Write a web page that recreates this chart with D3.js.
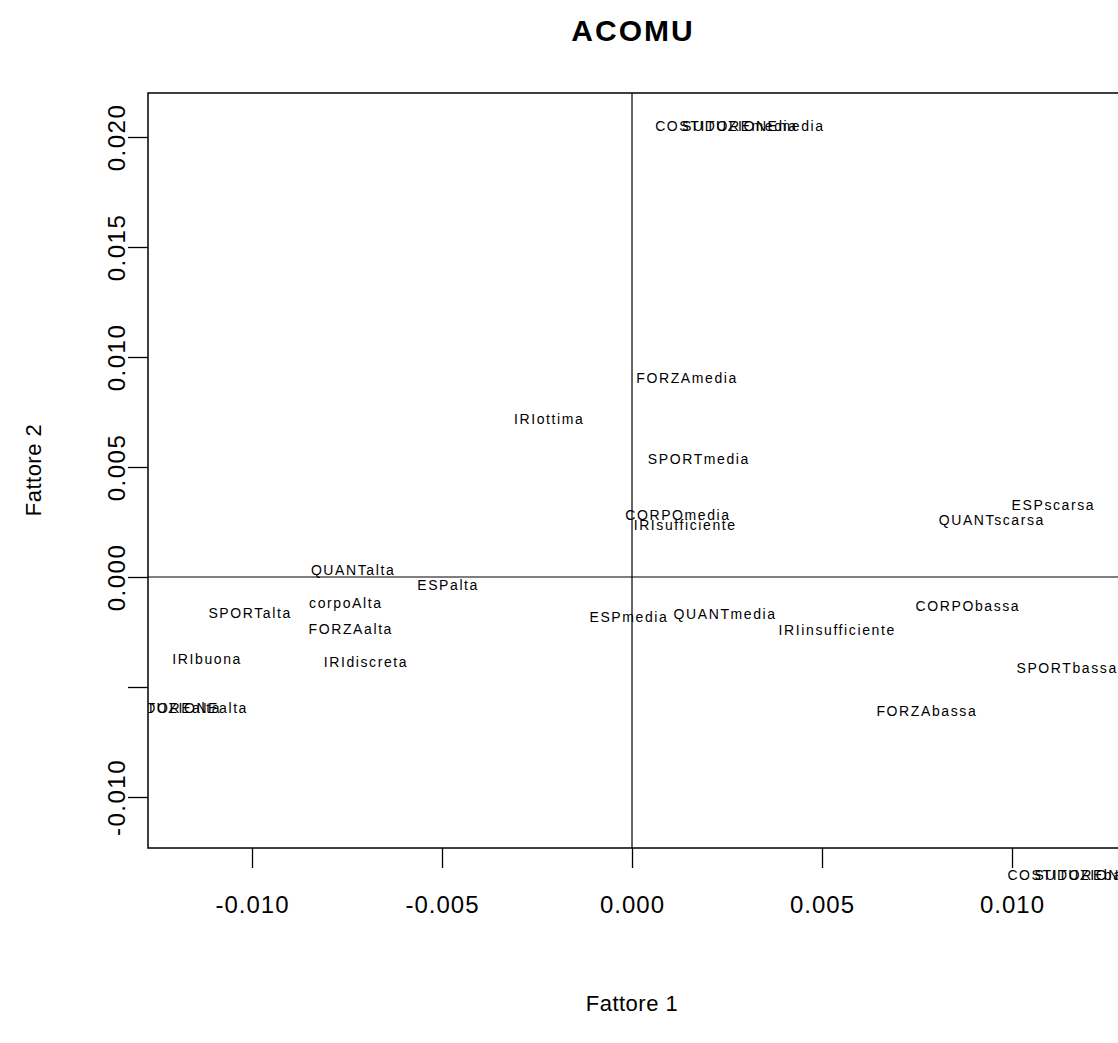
<!DOCTYPE html>
<html>
<head>
<meta charset="utf-8">
<script src="https://cdn.jsdelivr.net/npm/d3@7"></script>
<style>
  html, body { margin: 0; padding: 0; background: #fff; }
  svg { display: block; }
  text { font-family: "Liberation Sans", Arial, Helvetica, sans-serif; fill: #000; }
</style>
</head>
<body>
<script>
// Category labels of the correspondence analysis, with their coordinates on the first two factors
const labels = [
  "COSTITUZIONEmedia", "SUDOREmedia", "FORZAmedia", "IRIottima", "SPORTmedia",
  "ESPscarsa", "QUANTscarsa", "CORPOmedia", "IRIsufficiente", "QUANTalta",
  "ESPalta", "SPORTalta", "corpoAlta", "FORZAalta", "ESPmedia", "QUANTmedia",
  "IRIinsufficiente", "CORPObassa", "IRIbuona", "IRIdiscreta", "SPORTbassa",
  "COSTITUZIONEalta", "SUDOREalta", "FORZAbassa", "COSTITUZIONEbassa", "SUDOREbassa"
];
const factor1 = [
  0.00284, 0.00284, 0.00145, -0.00218, 0.00176,
  0.01109, 0.00947, 0.00121, 0.00140, -0.00734,
  -0.00484, -0.01005, -0.00753, -0.00740, -0.00008, 0.00245,
  0.00540, 0.00884, -0.01118, -0.00700, 0.01145,
  -0.01211, -0.01211, 0.00776, 0.01210, 0.01210
];
const factor2 = [
  0.02050, 0.02050, 0.00905, 0.00718, 0.00536,
  0.00327, 0.00259, 0.00282, 0.00236, 0.00032,
  -0.00036, -0.00164, -0.00118, -0.00236, -0.00182, -0.00168,
  -0.00241, -0.00132, -0.00373, -0.00386, -0.00414,
  -0.00595, -0.00595, -0.00609, -0.01355, -0.01355
];

const xTicks = [-0.010, -0.005, 0.000, 0.005, 0.010];
const yTicks = [-0.010, -0.005, 0.000, 0.005, 0.010, 0.015, 0.020];
const yTickLabels = ["-0.010", "", "0.000", "0.005", "0.010", "0.015", "0.020"];

const W = 1118, H = 1043;
const plot = { left: 148, top: 93, right: 1130, bottom: 848 };

const x = d3.scaleLinear().domain([-0.012737, 0.013105]).range([plot.left, plot.right]);
const y = d3.scaleLinear().domain([-0.012318, 0.022]).range([plot.bottom, plot.top]);

const svg = d3.select("body").append("svg").attr("width", W).attr("height", H);

svg.append("defs").append("clipPath").attr("id", "plotClip")
  .append("rect")
  .attr("x", plot.left).attr("y", 0)
  .attr("width", W - plot.left).attr("height", H);

// Title
svg.append("text")
  .attr("x", 633).attr("y", 41)
  .attr("text-anchor", "middle")
  .style("font-size", "30px").style("font-weight", "bold")
  .style("letter-spacing", "2px")
  .text("ACOMU");

// Axes (ticks only; the frame provides the axis line)
const xAxis = svg.append("g")
  .attr("transform", `translate(0,${plot.bottom})`)
  .call(d3.axisBottom(x).tickValues(xTicks).tickSize(20).tickSizeOuter(0)
    .tickFormat(d3.format(".3f")));
xAxis.select(".domain").remove();
xAxis.selectAll(".tick line").attr("stroke", "#000").attr("stroke-width", 1.3);
xAxis.selectAll(".tick text")
  .attr("y", 57).attr("dy", "0.32em")
  .style("font-size", "24px").style("font-family", "Liberation Sans, Arial, sans-serif")
  .style("letter-spacing", "1px")
  .text(d => d3.format(".3f")(d).replace("−", "-"));

const yAxis = svg.append("g")
  .attr("transform", `translate(${plot.left},0)`)
  .call(d3.axisLeft(y).tickValues(yTicks).tickSize(20).tickSizeOuter(0)
    .tickFormat((d, i) => yTickLabels[i]));
yAxis.select(".domain").remove();
yAxis.selectAll(".tick line").attr("stroke", "#000").attr("stroke-width", 1.3);
yAxis.selectAll(".tick text")
  .attr("x", 0).attr("y", 0).attr("dy", 0)
  .attr("text-anchor", "middle")
  .attr("transform", "translate(-23,0) rotate(-90)")
  .style("font-size", "24px").style("font-family", "Liberation Sans, Arial, sans-serif")
  .style("letter-spacing", "1.5px");

// Axis titles
svg.append("text")
  .attr("x", 632).attr("y", 1011)
  .attr("text-anchor", "middle")
  .style("font-size", "22px").style("letter-spacing", "0.5px")
  .text("Fattore 1");
svg.append("text")
  .attr("transform", `translate(41,${470}) rotate(-90)`)
  .attr("text-anchor", "middle")
  .style("font-size", "22px").style("letter-spacing", "0.5px")
  .text("Fattore 2");

// Plot frame
svg.append("rect")
  .attr("x", plot.left).attr("y", plot.top)
  .attr("width", plot.right - plot.left).attr("height", plot.bottom - plot.top)
  .attr("fill", "none").attr("stroke", "#000").attr("stroke-width", 1.5);

// Reference lines through the origin
svg.append("line")
  .attr("x1", x(0)).attr("x2", x(0))
  .attr("y1", plot.top).attr("y2", plot.bottom)
  .attr("stroke", "#000").attr("stroke-width", 1.2);
svg.append("line")
  .attr("x1", plot.left).attr("x2", plot.right)
  .attr("y1", y(0)).attr("y2", y(0))
  .attr("stroke", "#000").attr("stroke-width", 1.2);

// Category labels centred on their coordinates
svg.append("g").attr("clip-path", "url(#plotClip)")
  .selectAll("text")
  .data(labels)
  .join("text")
  .attr("x", (d, i) => x(factor1[i]))
  .attr("y", (d, i) => y(factor2[i]))
  .attr("dy", "0.35em")
  .attr("text-anchor", "middle")
  .style("font-size", "14px")
  .style("letter-spacing", "1.6px")
  .text(d => d);
</script>
</body>
</html>
